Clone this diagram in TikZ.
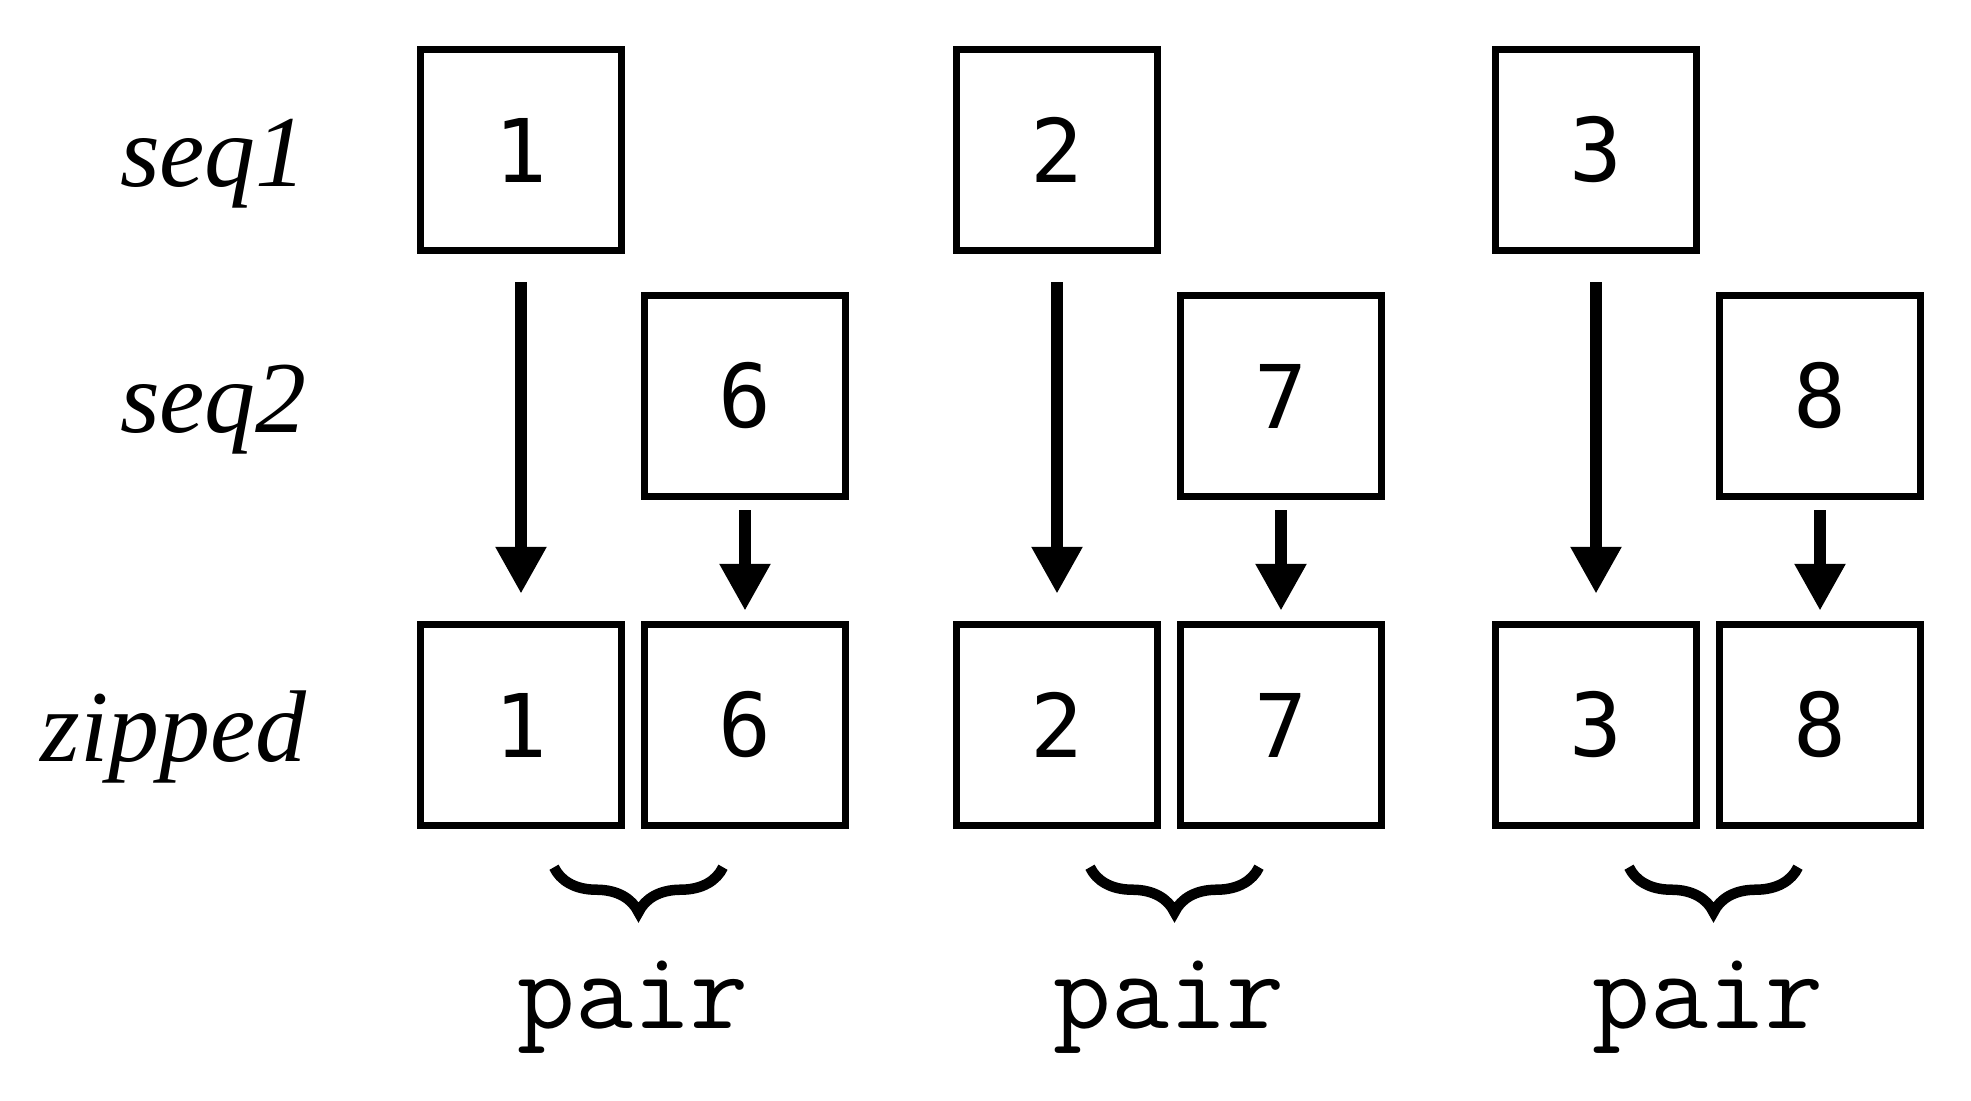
\documentclass[tikz,border=0pt]{standalone}
\usepackage{fontspec}
\usetikzlibrary{calc}
\usetikzlibrary{arrows.meta}
\usetikzlibrary{decorations.pathreplacing}
\newfontfamily\labelfont{Liberation Serif}
\newfontfamily\digitfont{DejaVu Sans Mono}

\begin{document}
\begin{tikzpicture}[x=0.02cm, y=0.02cm,
    cellbox/.style={draw, line width=0.15cm, minimum width=4.02cm, minimum height=4.02cm, inner sep=0pt, font=\digitfont\fontsize{50}{50}\selectfont},
    rowlabel/.style={anchor=base east, font=\labelfont\itshape\fontsize{58}{60}\selectfont},
    pairlabel/.style={anchor=base, font=\ttfamily\fontsize{64}{64}\selectfont},
    feed/.style={-{Triangle[length=0.94cm,width=0.96cm]}, line width=0.24cm},
    pairbrace/.style={decorate, decoration={brace, mirror, amplitude=0.9cm}, line width=0.21cm}]
\useasboundingbox (0,0) rectangle (1971,1101);

\coordinate (a) at (521, 951);
\coordinate (b) at (1057, 951);
\coordinate (c) at (1596, 951);
\coordinate (d) at (745, 705);
\coordinate (e) at (1281, 705);
\coordinate (f) at (1820, 705);
\coordinate (g) at (521, 376);
\coordinate (h) at (745, 376);
\coordinate (i) at (1057, 376);
\coordinate (j) at (1281, 376);
\coordinate (k) at (1596, 376);
\coordinate (l) at (1820, 376);

\newcommand{\numcell}[3]{
    \node[cellbox] (#1) at (#2) {#3};
}

\newcommand{\longfeed}[2]{
    \draw[feed, shorten <=0.56cm, shorten >=0.54cm] (#1.south)--(#2.north);
}

\newcommand{\shortfeed}[2]{
    \draw[feed, shorten <=0.2cm, shorten >=0.2cm] (#1.south)--(#2.north);
}

\newcommand{\drawpair}[3]{
    \draw[pairbrace] ($(#1.south east)!0.5!(#2.south west) + (-79,-38)$)--($(#1.south east)!0.5!(#2.south west) + (90,-38)$);
    \node[pairlabel] (#3) at ($(#1.south east)!0.5!(#2.south west) + (0,-199)$) {pair};
}

% row labels
\node[rowlabel] (seqone) at (313, 914) {seq1};
\node[rowlabel] (seqtwo) at (313, 668) {seq2};
\node[rowlabel] (zipped) at (313, 339) {zipped};

% seq1
\numcell{xa}{a}{1}
\numcell{xb}{b}{2}
\numcell{xc}{c}{3}
% seq2
\numcell{ya}{d}{6}
\numcell{yb}{e}{7}
\numcell{yc}{f}{8}
% zipped
\numcell{za}{g}{1}
\numcell{zb}{h}{6}
\numcell{zc}{i}{2}
\numcell{zd}{j}{7}
\numcell{ze}{k}{3}
\numcell{zf}{l}{8}

\longfeed{xa}{za}
\longfeed{xb}{zc}
\longfeed{xc}{ze}
\shortfeed{ya}{zb}
\shortfeed{yb}{zd}
\shortfeed{yc}{zf}

\drawpair{za}{zb}{pa}
\drawpair{zc}{zd}{pb}
\drawpair{ze}{zf}{pc}
\end{tikzpicture}
\end{document}
